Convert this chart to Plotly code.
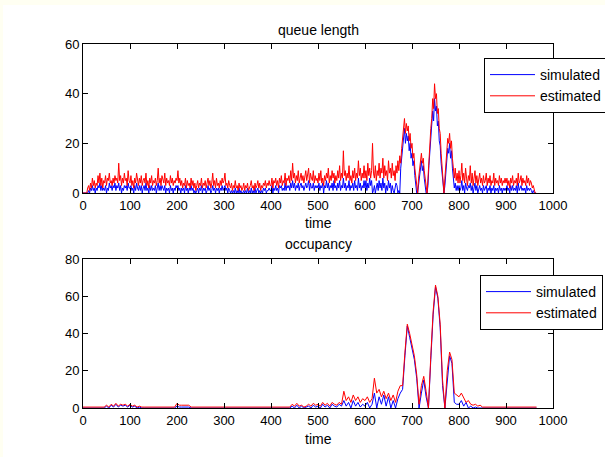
import plotly.graph_objects as go

# ---------------- data ----------------
# queue length, sampled every 2 time units (t = 0, 2, ..., 964)
queue_estimated = [
    0,0,0,0,0,2,3,1,4,2, 6,3,5,2,4,3,7,4,8,3, 6,2,5,4,7,3,6,5,8,4, 5,3,6,4,7,5,6,4,12,5, 7,3,6,4,8,5,6,3,9,5,
    4,7,3,5,2,6,4,8,5,3, 6,4,7,3,5,6,4,8,3,5, 2,6,4,7,3,5,4,6,3,5, 10,4,6,3,7,5,4,8,3,6, 4,5,3,7,4,6,3,5,4,6,
    5,9,4,6,3,5,2,4,3,6, 2,5,3,4,2,6,3,5,2,4, 1,3,5,2,4,3,6,2,4,3, 5,2,4,6,3,5,2,4,8,3, 5,2,6,3,4,2,5,3,6,4,
    5,8,3,4,2,5,3,2,4,1, 3,2,5,2,3,1,4,2,3,1, 2,4,1,3,2,4,1,2,3,5, 2,3,1,4,2,3,5,2,4,1, 3,2,4,3,5,2,4,3,5,3,
    3,6,2,5,4,6,3,5,2,6, 4,7,3,5,4,8,3,6,5,7, 4,9,5,12,6,8,4,7,5,9, 4,6,8,5,7,4,6,9,5,7, 10,4,8,6,5,9,4,7,5,6,
    4,8,5,9,4,6,3,7,5,8, 6,10,4,7,5,9,6,8,4,7, 5,9,6,11,5,8,6,17,7,9, 5,8,6,11,5,7,4,9,6,10, 5,8,6,13,7,10,5,8,6,11,
    6,9,5,12,7,10,6,9,20,8, 6,11,5,9,7,12,6,10,8,14, 6,11,7,9,5,13,8,10,6,12, 7,9,5,11,8,13,9,15,12,18, 22,26,30,24,28,25,27,21,24,18,
    20,14,16,10,6,2,0,6,10,14, 16,12,14,9,6,2,0,6,14,20, 26,30,38,34,44,38,40,32,34,26, 24,16,10,4,0,6,12,16,22,20, 24,18,21,14,8,6,10,5,8,4,
    9,4,7,12,5,8,4,10,6,3, 7,5,11,4,8,3,6,9,4,7, 3,5,8,4,6,3,7,4,5,8, 3,6,4,7,3,5,4,8,3,6, 4,5,3,7,4,6,3,5,4,6,
    4,6,3,5,2,6,4,7,3,5, 4,6,3,8,4,5,7,3,6,4, 5,3,7,4,6,3,5,4,2,3, 1,0,0,
]

queue_simulated = [
    0,0,0,0,0,0,1,0,2,1, 3,1,2,0,2,1,3,2,4,1, 3,1,2,1,3,0,2,1,4,2, 3,1,3,2,4,1,3,2,4,1, 3,0,2,1,3,2,3,1,4,2,
    2,3,1,2,0,3,1,4,2,1, 3,1,3,0,2,3,1,4,1,2, 0,3,1,3,1,2,1,3,0,2, 4,1,3,1,3,2,1,3,0,2, 1,2,0,3,1,2,0,2,1,3,
    2,3,1,2,0,2,1,2,0,3, 1,2,0,2,1,3,1,2,0,1, 0,1,2,0,2,1,3,0,2,1, 2,0,1,3,1,2,0,1,3,1, 2,0,2,1,2,0,2,1,3,1,
    2,3,1,2,0,2,1,0,1,0, 1,0,2,0,1,0,2,0,1,0, 0,1,0,1,0,2,0,1,0,2, 0,1,0,2,0,1,2,0,1,0, 1,0,2,1,2,0,1,1,2,1,
    1,3,0,2,1,3,1,2,0,3, 2,3,1,2,1,4,1,3,2,3, 1,4,2,5,2,4,1,3,2,4, 1,3,4,2,3,1,3,4,2,3, 5,1,4,2,2,4,1,3,2,3,
    2,4,1,3,2,4,0,3,2,5, 2,4,1,3,2,4,1,5,2,3, 1,4,2,5,1,3,2,6,2,4, 1,3,2,5,1,3,2,4,1,5, 2,3,1,6,2,4,1,3,2,5,
    2,5,1,4,2,6,3,5,0,1, 3,0,2,4,1,5,2,4,1,6, 2,4,0,3,1,5,2,4,0,3, 1,0,2,4,3,0,1,0,10,14, 18,22,26,20,24,21,23,17,20,14,
    16,11,13,7,3,0,0,3,7,11, 13,9,11,6,3,0,0,3,11,16, 22,26,33,29,38,33,35,27,29,21, 19,12,7,2,0,3,9,13,18,16, 20,14,17,10,5,2,4,1,3,1,
    3,1,2,5,1,3,0,4,2,1, 3,2,4,1,3,0,2,4,1,3, 0,2,3,1,2,0,3,1,2,3, 0,2,1,3,0,2,1,3,0,2, 1,2,0,3,1,2,0,2,1,2,
    1,3,1,2,0,3,1,3,1,2, 1,3,0,4,1,2,3,1,2,1, 2,0,3,1,2,1,2,1,0,1, 0,0,0,
]

# occupancy, sampled every 5 time units (t = 0, 5, ..., 965)
occupancy_estimated = [
    0.5, 0.5, 0.5, 0.5, 0.5, 0.5, 0.5, 0.5, 0.5, 0.5, 1.5, 0.5, 2, 1, 2.5, 1, 2, 1.5, 2, 1,
    2, 1, 1.5, 0.5, 1, 0.5, 0.5, 0.5, 0.5, 0.5, 0.5, 0.5, 0.5, 0.5, 0.5, 0.5, 0.5, 0.5, 0.5, 0.5,
    2.5, 1.5, 1.5, 1.5, 1.5, 1.5, 0.5, 0.5, 0.5, 0.5, 0.5, 0.5, 0.5, 0.5, 0.5, 0.5, 0.5, 0.5, 0.5, 0.5,
    0.5, 0.5, 0.5, 0.5, 0.5, 0.5, 0.5, 0.5, 0.5, 0.5, 0.5, 0.5, 0.5, 0.5, 0.5, 0.5, 0.5, 0.5, 0.5, 0.5,
    0.5, 0.5, 0.5, 0.5, 0.5, 0.5, 0.5, 0.5, 0.5, 2, 1, 2.5, 1, 1.5, 0.5, 1, 2, 1, 2.5, 1.5,
    2, 1, 3, 1.5, 2.5, 1, 3, 2, 1.5, 3, 2, 9, 4, 6, 3, 7, 4, 6, 3, 5,
    4, 6, 3, 5, 16, 8, 10, 6, 9, 5, 8, 4, 7, 3, 9, 12, 12, 30, 45, 40,
    34, 28, 18, 2, 12, 17, 9, 0, 28, 52, 66, 60, 45, 15, 0, 20, 30, 26, 8, 7,
    6, 8, 5, 3, 4, 2, 1.5, 2, 1, 1.5, 0.5, 0.5, 0.5, 0.5, 0.5, 0.5, 0.5, 0.5, 0.5, 0.5,
    0.5, 0.5, 0.5, 0.5, 0.5, 0.5, 0.5, 0.5, 0.5, 0.5, 0.5, 0.5, 0.5, 0.5,
]

occupancy_simulated = [
    0, 0, 0, 0, 0, 0, 0, 0, 0, 0, 1, 0, 1.5, 0.5, 2, 0.5, 1.5, 1, 1.5, 0.5,
    1.5, 0.5, 1, 0, 0.5, 0, 0, 0, 0, 0, 0, 0, 0, 0, 0, 0, 0, 0, 0, 0,
    1, 0.5, 0.5, 0.5, 0.5, 0.5, 0, 0, 0, 0, 0, 0, 0, 0, 0, 0, 0, 0, 0, 0,
    0, 0, 0, 0, 0, 0, 0, 0, 0, 0, 0, 0, 0, 0, 0, 0, 0, 0, 0, 0,
    0, 0, 0, 0, 0, 0, 0, 0, 0, 1, 0, 1.5, 0, 1, 0, 0.5, 1, 0, 1.5, 0.5,
    1, 0, 2, 0.5, 1.5, 0, 2, 1, 0.5, 2, 1, 4, 1, 3, 0, 4, 1, 3, 0.5, 2,
    1, 3, 0, 2, 8, 0, 6, 2, 7, 1, 6, 0, 4, 0, 5, 8, 10, 28, 44, 38,
    32, 26, 16, 0, 8, 15, 6, 0, 26, 50, 65, 59, 43, 12, 0, 16, 28, 24, 3, 2,
    2, 4, 1, 3, 0, 1, 0, 0.5, 0, 0, 0, 0, 0, 0, 0, 0, 0, 0, 0, 0,
    0, 0, 0, 0, 0, 0, 0, 0, 0, 0, 0, 0, 0, 0,
]

time_queue = [2 * i for i in range(len(queue_estimated))]
time_occupancy = [5 * i for i in range(len(occupancy_estimated))]

x_ticks = [0, 100, 200, 300, 400, 500, 600, 700, 800, 900, 1000]
queue_ticks = [0, 20, 40, 60]
occupancy_ticks = [0, 20, 40, 60, 80]

# ---------------- figure ----------------
W, H = 605, 457
FONT = "Liberation Sans"
BLUE, RED = "#0000ff", "#ff0000"

fig = go.Figure()
fig.add_trace(go.Scatter(x=time_queue, y=queue_simulated, mode="lines", name="simulated",
                         line=dict(color=BLUE, width=1), xaxis="x", yaxis="y", legend="legend"))
fig.add_trace(go.Scatter(x=time_queue, y=queue_estimated, mode="lines", name="estimated",
                         line=dict(color=RED, width=1), xaxis="x", yaxis="y", legend="legend"))
fig.add_trace(go.Scatter(x=time_occupancy, y=occupancy_simulated, mode="lines", name="simulated",
                         line=dict(color=BLUE, width=1), xaxis="x2", yaxis="y2", legend="legend2"))
fig.add_trace(go.Scatter(x=time_occupancy, y=occupancy_estimated, mode="lines", name="estimated",
                         line=dict(color=RED, width=1), xaxis="x2", yaxis="y2", legend="legend2"))

xd = [83 / W, 553 / W]
top_dom = [1 - 193 / H, 1 - 44 / H]
bot_dom = [1 - 408 / H, 1 - 259 / H]

axis_common = dict(showline=True, linecolor="black", linewidth=1, mirror="ticks",
                   ticks="inside", ticklen=5, tickcolor="black", showgrid=False,
                   zeroline=False, automargin=False,
                   tickfont=dict(family=FONT, size=13, color="black"))

legend_common = dict(bgcolor="white", bordercolor="black", borderwidth=1,
                     font=dict(family=FONT, size=14, color="black"),
                     xanchor="left", yanchor="top", tracegroupgap=0, itemwidth=45)

def label(text, px_x, px_y):
    return dict(text=text, x=px_x / W, y=1 - px_y / H, xref="paper", yref="paper",
                xanchor="center", yanchor="middle", showarrow=False,
                font=dict(family=FONT, size=14, color="black"))

fig.update_layout(
    width=W, height=H,
    margin=dict(l=0, r=0, t=0, b=0, pad=0, autoexpand=False),
    paper_bgcolor="#fffff2",
    plot_bgcolor="white",
    font=dict(family=FONT, size=13, color="black"),
    xaxis=dict(domain=xd, range=[0, 1000], tickvals=x_ticks, anchor="y", **axis_common),
    yaxis=dict(domain=top_dom, range=[0, 60], tickvals=queue_ticks, anchor="x", **axis_common),
    xaxis2=dict(domain=xd, range=[0, 1000], tickvals=x_ticks, anchor="y2", **axis_common),
    yaxis2=dict(domain=bot_dom, range=[0, 80], tickvals=occupancy_ticks, anchor="x2", **axis_common),
    legend=dict(x=484 / W, y=1 - 58 / H, **legend_common),
    legend2=dict(x=480 / W, y=1 - 275 / H, **legend_common),
    shapes=[dict(type="rect", xref="paper", yref="paper", x0=3 / W, x1=1.01, y0=-0.01, y1=1 - 5 / H,
                 fillcolor="white", line=dict(width=0), layer="below")],
    annotations=[
        label("queue length", 318, 30),
        label("time", 318, 223),
        label("occupancy", 318, 244),
        label("time", 318, 439),
    ],
)

fig.write_html("out.html", config={"displayModeBar": False},
               post_script="document.body.style.margin='0px';")
